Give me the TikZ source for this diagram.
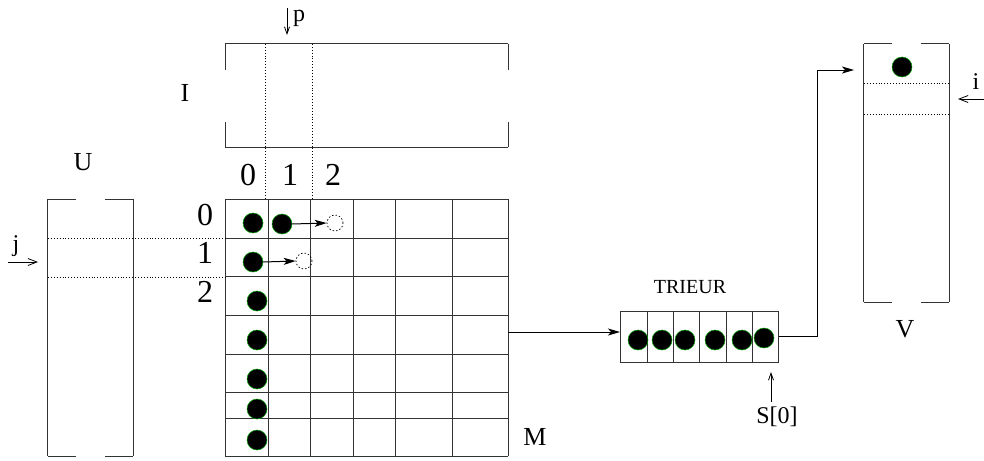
\documentclass[tikz,border=0pt]{standalone}
\usepackage{fontspec}
\setmainfont{Liberation Serif}
\usetikzlibrary{arrows.meta}
\begin{document}
\begin{tikzpicture}[x=1pt,y=-1pt,
  line/.style={draw=black!80, line width=1pt},
  dotln/.style={draw=black, dotted, line width=0.9pt},
  ball/.style={circle, fill=black, draw=green!65!black, line width=0.5pt, minimum size=20pt, inner sep=0pt},
  ghost/.style={circle, draw=black, dash pattern=on 1.5pt off 2pt, line width=0.7pt, minimum size=16pt, inner sep=0pt},
  holder/.style={draw=none, inner sep=0pt},
  lbl/.style={font=\fontsize{26}{26}\selectfont, inner sep=0pt},
  big/.style={font=\fontsize{32}{32}\selectfont, inner sep=0pt},
  small/.style={font=\fontsize{20}{20}\selectfont, inner sep=0pt},
  letter/.style={font=\fontsize{24}{24}\selectfont, inner sep=0pt},
  arr/.style={-{Stealth[length=12pt,width=7pt,inset=3pt]}, line width=1pt},
  openarr/.style={-{Straight Barb[length=9pt,width=7pt]}, line width=0.8pt},
  thinarr/.style={-{Straight Barb[length=7pt,width=5pt]}, line width=0.8pt},
]
\useasboundingbox (0,0) rectangle (984,460);

% ---------- I box ----------
\node[holder, minimum width=283pt, minimum height=103pt] (Ibox) at (366.5,95.5) {};
\draw[line] (Ibox.north west) -- (Ibox.north east);
\draw[line] (Ibox.south west) -- (Ibox.south east);
\draw[line] (225,44) -- (225,70) (225,122) -- (225,147);
\draw[line] (508,44) -- (508,70) (508,122) -- (508,147);
\node[lbl] (Ilbl) at (185,93) {I};

% p arrow
\coordinate (p0) at (287,8);
\coordinate (p1) at (287,35);
\draw[thinarr] (p0) -- (p1);
\node[letter] (plbl) at (299,18) {p};

% ---------- grid M ----------
\node[holder, minimum width=283pt, minimum height=257pt] (M) at (366.5,327.5) {};
\foreach \x in {225,268,310,353,395,452,508} \draw[line] (\x,199) -- (\x,456);
\foreach \y in {199,238,276,315,354,392,418,456} \draw[line] (225,\y) -- (508,\y);
\node[lbl] (Mlbl) at (535,437) {M};

% column / row labels
\node[big] (c0) at (248,175) {0};
\node[big] (c1) at (290,175) {1};
\node[big] (c2) at (333,175) {2};
\node[big] (r0) at (205,215) {0};
\node[big] (r1) at (205,253) {1};
\node[big] (r2) at (205,292) {2};

% dotted column guides
\draw[dotln] (265,44) -- (265,199);
\draw[dotln] (312,44) -- (312,199);

% ---------- U box ----------
\node[holder, minimum width=85pt, minimum height=257pt] (Ubox) at (90.5,327.5) {};
\draw[line] (Ubox.north west) -- (Ubox.south west);
\draw[line] (Ubox.north east) -- (Ubox.south east);
\draw[line] (48,199) -- (76,199) (105,199) -- (133,199);
\draw[line] (48,456) -- (76,456) (105,456) -- (133,456);
\draw[dotln] (48,238) -- (225,238);
\draw[dotln] (48,277) -- (225,277);
\node[lbl] (Ulbl) at (83,162) {U};

% j arrow
\coordinate (j0) at (8,262);
\coordinate (j1) at (38,262);
\draw[openarr] (j0) -- (j1);
\node[letter] (jlbl) at (16,246) {j};

% ---------- balls in grid ----------
\node[ball] (b00) at (253,223) {};
\node[ball] (b01) at (282,224) {};
\node[ghost] (g0) at (335,223) {};
\node[ball] (b10) at (253,262) {};
\node[ghost] (g1) at (304,261) {};
\node[ball] (b2) at (257,301) {};
\node[ball] (b3) at (257,340) {};
\node[ball] (b4) at (257,379) {};
\node[ball] (b5) at (257,409) {};
\node[ball] (b6) at (257,440) {};
\draw[arr] (b01.east) -- (g0.west);
\draw[arr] (b10.east) -- (g1.west);

% ---------- TRIEUR ----------
\node[draw=black!80, line width=1pt, minimum width=158pt, minimum height=51pt, inner sep=0pt] (T) at (699,336.5) {};
\foreach \x in {647,673,699,726,752} \draw[line] (\x,311) -- (\x,362);
\node[small] (Tlbl) at (690,287) {TRIEUR};
\node[ball] (t1) at (638,340) {};
\node[ball] (t2) at (662,340) {};
\node[ball] (t3) at (685,340) {};
\node[ball] (t4) at (715,340) {};
\node[ball] (t5) at (742,340) {};
\node[ball] (t6) at (764,338) {};

\coordinate (mout) at (508,332);
\coordinate (tin) at (620,332);
\draw[arr] (mout) -- (tin);

% S[0]
\coordinate (s0) at (771,402);
\coordinate (s1) at (771,372);
\draw[thinarr] (s0) -- (s1);
\node[letter] (Slbl) at (777,417) {S[0]};

% ---------- V box ----------
\node[holder, minimum width=85pt, minimum height=258pt] (Vbox) at (906.5,173) {};
\draw[line] (Vbox.north west) -- (Vbox.south west);
\draw[line] (Vbox.north east) -- (Vbox.south east);
\draw[line] (864,44) -- (892,44) (921,44) -- (949,44);
\draw[line] (864,302) -- (892,302) (921,302) -- (949,302);
\draw[dotln] (864,83) -- (949,83);
\draw[dotln] (864,114) -- (949,114);
\node[ball] (v0) at (902,67) {};
\node[lbl] (Vlbl) at (905,329) {V};

% i arrow
\coordinate (i0) at (984,99);
\coordinate (i1) at (958,99);
\draw[openarr] (i0) -- (i1);
\node[letter] (ilbl) at (976,82) {i};

% TRIEUR -> V
\coordinate (vin) at (854,70);
\draw[arr] (T.east |- 0,336) -- (817,336) -- (817,70) -- (vin);

\end{tikzpicture}
\end{document}
